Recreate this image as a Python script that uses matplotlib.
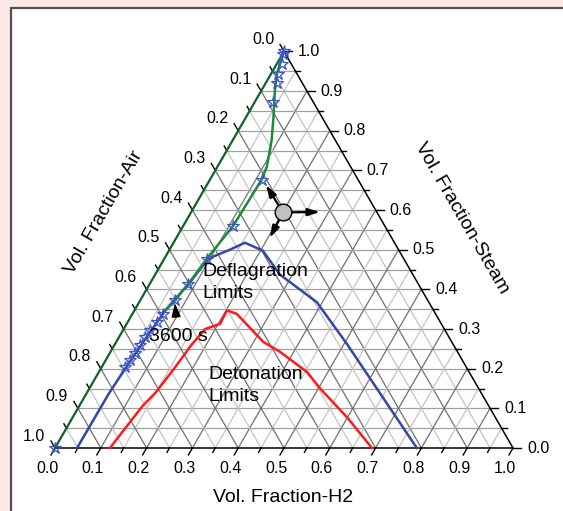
import numpy as np
import matplotlib
matplotlib.use("Agg")
import matplotlib.pyplot as plt
from matplotlib.patches import Rectangle

plt.rcParams['font.family'] = ['Liberation Sans', 'DejaVu Sans']

# ternary data: h = H2 fraction, s = steam fraction (air = 1 - h - s)
green_h = [0.0, 0.013, 0.030, 0.060, 0.085, 0.108, 0.113, 0.109, 0.093, 0.084, 0.076, 0.069]
green_s = [1.0, 0.9425, 0.900, 0.834, 0.776, 0.709, 0.676, 0.560, 0.4775, 0.4125, 0.3725, 0.350]

star_h = [0.0, 0.002, 0.012, 0.016, 0.025, 0.040, 0.114, 0.109, 0.093, 0.084, 0.076,
          0.067, 0.063, 0.059, 0.057, 0.056, 0.054, 0.052, 0.051, 0.0]
star_s = [1.0, 0.9925, 0.9675, 0.9425, 0.920, 0.8725, 0.675, 0.560, 0.4775, 0.4125, 0.3725,
          0.3375, 0.318, 0.2975, 0.279, 0.260, 0.240, 0.2225, 0.205, 0.0]

deflag_h = [0.048, 0.049, 0.055, 0.061, 0.068, 0.086, 0.096, 0.132, 0.156, 0.205, 0.272, 0.388, 0.506, 0.790]
deflag_s = [0.0, 0.14, 0.22, 0.29, 0.35, 0.4175, 0.4775, 0.500, 0.5175, 0.4975, 0.4375, 0.3675, 0.2625, 0.0]

deton_h = [0.120, 0.138, 0.150, 0.160, 0.168, 0.178, 0.204, 0.202, 0.228, 0.321, 0.370, 0.453, 0.504, 0.602, 0.692]
deton_s = [0.0, 0.105, 0.140, 0.200, 0.260, 0.300, 0.313, 0.347, 0.338, 0.2675, 0.2425, 0.1925, 0.150, 0.075, 0.0]

tick_vals = [0.0, 0.1, 0.2, 0.3, 0.4, 0.5, 0.6, 0.7, 0.8, 0.9, 1.0]
tick_labels = ['0.0', '0.1', '0.2', '0.3', '0.4', '0.5', '0.6', '0.7', '0.8', '0.9', '1.0']

# direction glyph (circle with three arrows)
glyph_center = (0.201, 0.594)
glyph_tips = [(0.129, 0.663), (0.281, 0.595), (0.204, 0.530)]
t3600_tip = (0.079, 0.3656)

R3 = np.sqrt(3) / 2
PX = 1 / 458.0  # one pixel in data units


def tern(h, s):
    h = np.asarray(h, dtype=float)
    s = np.asarray(s, dtype=float)
    return h + s / 2, s * R3


fig = plt.figure(figsize=(5.63, 5.11), dpi=100)
fig.patch.set_facecolor('#fde7e7')

# white panel behind the plot
bg = fig.add_axes([0, 0, 1, 1])
bg.axis('off')
bg.set_xlim(0, 1)
bg.set_ylim(0, 1)
bg.add_patch(Rectangle((11 / 563, -0.1), 1.2, 1.1 - 8 / 511,
                       facecolor='white', edgecolor='#505050', lw=1.6))

ax = fig.add_axes([0, 0, 1, 1])
ax.patch.set_alpha(0)
ax.set_xlim(-55 * PX, 508 * PX)
ax.set_ylim(-63 * PX, 448 * PX)
ax.axis('off')

# grid
for i in range(1, 20):
    v = i * 0.05
    major = (i % 2 == 0)
    dcol = '#707070' if major else '#c4c4c4'
    # constant steam (horizontal)
    x, y = tern([0, 1 - v], [v, v])
    ax.plot(x, y, color='#a0a0a0', lw=0.9, zorder=1)
    # constant H2
    x, y = tern([v, v], [0, 1 - v])
    ax.plot(x, y, color=dcol, lw=0.9, zorder=1)
    # constant air
    x, y = tern([1 - v, 0], [0, 1 - v])
    ax.plot(x, y, color=dcol, lw=0.9, zorder=1)

# triangle edges
x, y = tern([0, 1, 0], [0, 0, 1])
ax.plot(x, y, color='black', lw=1.1, zorder=2)

# ticks
for i in range(21):
    v = i * 0.05
    L = (8 if i % 2 == 0 else 5) * PX
    # bottom (H2)
    x0, y0 = tern(v, 0)
    ax.plot([x0, x0 - 0.5 * L], [y0, y0 - R3 * L], color='black', lw=1, zorder=2)
    # right (steam)
    x0, y0 = tern(1 - v, v)
    ax.plot([x0, x0 + L], [y0, y0], color='black', lw=1, zorder=2)
    # left (air)
    x0, y0 = tern(0, 1 - v)
    ax.plot([x0, x0 - 0.5 * L], [y0, y0 + R3 * L], color='black', lw=1, zorder=2)

for v, lab in zip(tick_vals, tick_labels):
    x0, y0 = tern(v, 0)
    ax.text(x0 - 8 * PX, y0 - 20 * PX, lab, ha='center', va='center', fontsize=11.5)
    x0, y0 = tern(1 - v, v)
    ax.text(x0 + 25 * PX, y0, lab, ha='center', va='center', fontsize=11.5)
    x0, y0 = tern(0, 1 - v)
    ax.text(x0 - 21 * PX, y0 + 12 * PX, lab, ha='center', va='center', fontsize=11.5)

# series
x, y = tern([0, 0], [0, 1])
ax.plot(x, y, color='#0d6424', lw=1.6, zorder=3)
x, y = tern(deflag_h, deflag_s)
ax.plot(x, y, color='#3447a8', lw=1.8, zorder=3)
x, y = tern(deton_h, deton_s)
ax.plot(x, y, color='#ff1a1a', lw=1.8, zorder=3)
x, y = tern(green_h, green_s)
ax.plot(x, y, color='#1e8a3a', lw=1.8, zorder=4)
x, y = tern(star_h, star_s)
ax.plot(x, y, ls='none', marker='*', ms=9, mfc='none', mec='#3a55c8', mew=0.9, zorder=5)

# direction glyph
cx, cy = tern(*glyph_center)
for th, ts in glyph_tips:
    tx, ty = tern(th, ts)
    ax.annotate('', xy=(tx, ty), xytext=(cx, cy),
                arrowprops=dict(arrowstyle='-|>,head_length=0.7,head_width=0.22',
                                color='black', lw=1.6, shrinkA=5, shrinkB=0), zorder=6)
ax.plot(cx, cy, 'o', ms=12, mfc='#c0c0c0', mec='black', mew=1.0, zorder=7)

# annotations
tx, ty = tern(*t3600_tip)
ax.annotate('3600 s', xy=(tx, ty), xytext=(tx + 3 * PX, ty - 34 * PX),
            ha='center', va='center', fontsize=14,
            arrowprops=dict(arrowstyle='-|>,head_length=0.6,head_width=0.2',
                            color='black', lw=1.0, shrinkA=6, shrinkB=0), zorder=6)
ax.text(147 * PX, 185 * PX, 'Deflagration\nLimits', ha='left', va='top',
        fontsize=14, linespacing=1.4, zorder=6)
ax.text(153 * PX, 82 * PX, 'Detonation\nLimits', ha='left', va='top',
        fontsize=14, linespacing=1.4, zorder=6)

# axis titles
ax.text(0.498, -49 * PX, 'Vol. Fraction-H2', ha='center', va='center', fontsize=14)
ax.text(0.107, 0.515, 'Vol. Fraction-Air', ha='center', va='center', fontsize=14, rotation=60)
ax.text(0.8886, 0.502, 'Vol. Fraction-Steam', ha='center', va='center', fontsize=14, rotation=-60)

fig.savefig('out.png', dpi=100, facecolor=fig.get_facecolor())
